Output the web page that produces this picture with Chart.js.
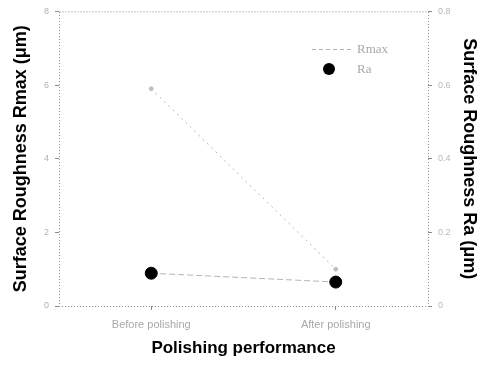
<!DOCTYPE html>
<html>
<head>
<meta charset="utf-8">
<script src="https://cdn.jsdelivr.net/npm/chart.js@4/dist/chart.umd.min.js"></script>
<style>
  html, body { margin: 0; padding: 0; background: #fff; }
  #wrap { width: 480px; height: 365px; }
</style>
</head>
<body>
<div id="wrap"><canvas id="chart"></canvas></div>
<script>
// Datos
const categories = ['Before polishing', 'After polishing'];
const rmaxValues = [5.9, 1.0];
const raValues = [0.089, 0.065];
const leftTicks = [0, 2, 4, 6, 8];
const rightTicks = [0, 0.2, 0.4, 0.6, 0.8];

// Marco punteado del área del gráfico
const frame = {
    id: 'frame',
    afterDraw(chart) {
        const { ctx, chartArea: a } = chart;
        ctx.save();
        ctx.strokeStyle = '#8a8a8a';
        ctx.lineWidth = 1;
        ctx.setLineDash([1, 2]);
        ctx.strokeRect(a.left + 0.5, a.top + 0.5, a.right - a.left, a.bottom - a.top);
        ctx.restore();
    }
};

// Leyenda dentro del área (arriba a la derecha)
const innerLegend = {
    id: 'innerLegend',
    afterDraw(chart) {
        const { ctx } = chart;
        ctx.save();
        // Rmax
        ctx.strokeStyle = '#b0b0b0';
        ctx.lineWidth = 1;
        ctx.setLineDash([4, 3]);
        ctx.beginPath();
        ctx.moveTo(312, 49.5);
        ctx.lineTo(352, 49.5);
        ctx.stroke();
        ctx.setLineDash([]);
        // Ra
        ctx.fillStyle = '#000';
        ctx.beginPath();
        ctx.arc(329, 69, 6, 0, Math.PI * 2);
        ctx.fill();
        ctx.fillStyle = '#a8a8a8';
        ctx.font = '13px "Liberation Serif", serif';
        ctx.textBaseline = 'middle';
        ctx.fillText('Rmax', 357, 50);
        ctx.fillText('Ra', 357, 70);
        ctx.restore();
    }
};

const ctx = document.getElementById('chart').getContext('2d');
new Chart(ctx, {
    type: 'line',
    data: {
        labels: categories,
        datasets: [
            {
                label: 'Rmax',
                data: rmaxValues,
                yAxisID: 'y',
                borderColor: '#b5b5b5',
                borderWidth: 1,
                borderDash: [2, 4],
                pointRadius: 2,
                pointBackgroundColor: '#c0c0c0',
                pointBorderColor: '#c0c0c0',
                fill: false
            },
            {
                label: 'Ra',
                data: raValues,
                yAxisID: 'y2',
                borderColor: '#b5b5b5',
                borderWidth: 1,
                borderDash: [6, 3],
                pointRadius: 6,
                pointBackgroundColor: '#000',
                pointBorderColor: '#000',
                fill: false
            }
        ]
    },
    options: {
        responsive: true,
        maintainAspectRatio: false,
        animation: false,
        layout: { padding: { left: 10, right: 0, top: 9, bottom: 6 } },
        plugins: {
            legend: { display: false },
            tooltip: { enabled: false }
        },
        scales: {
            x: {
                offset: true,
                grid: { display: true, drawOnChartArea: false, color: '#8a8a8a', tickLength: 4 },
                border: { display: false },
                ticks: {
                    color: '#a8a8a8',
                    font: { family: '"Liberation Sans", sans-serif', size: 11 },
                    padding: 8,
                    maxRotation: 0
                },
                title: {
                    display: true,
                    text: 'Polishing performance',
                    color: '#000',
                    font: { family: '"Liberation Sans", Arial, sans-serif', size: 17, weight: 'bold' },
                    padding: { top: 4, bottom: 0 }
                },
                afterFit(scale) { scale.height = 53; }
            },
            y: {
                position: 'left',
                min: 0,
                max: 8,
                afterBuildTicks(scale) { scale.ticks = leftTicks.map(v => ({ value: v })); },
                grid: { drawOnChartArea: false, color: '#8a8a8a', tickLength: 4 },
                border: { display: false },
                ticks: {
                    color: '#b0b0b0',
                    font: { family: '"Liberation Sans", sans-serif', size: 9 },
                    padding: 6
                },
                title: {
                    display: true,
                    text: 'Surface Roughness Rmax (μm)',
                    color: '#000',
                    font: { family: '"Liberation Sans", Arial, sans-serif', size: 18, weight: 'bold' },
                    padding: 0
                },
                afterFit(scale) { scale.width = 49; }
            },
            y2: {
                position: 'right',
                min: 0,
                max: 0.8,
                afterBuildTicks(scale) { scale.ticks = rightTicks.map(v => ({ value: v })); },
                grid: { drawOnChartArea: false, color: '#8a8a8a', tickLength: 4 },
                border: { display: false },
                ticks: {
                    color: '#b8b8b8',
                    font: { family: '"Liberation Sans", sans-serif', size: 9 },
                    padding: 6
                },
                title: {
                    display: true,
                    text: 'Surface Roughness Ra (μm)',
                    color: '#000',
                    font: { family: '"Liberation Sans", Arial, sans-serif', size: 18, weight: 'bold' },
                    padding: 0
                },
                afterFit(scale) { scale.width = 52; }
            }
        }
    },
    plugins: [frame, innerLegend]
});
</script>
</body>
</html>
